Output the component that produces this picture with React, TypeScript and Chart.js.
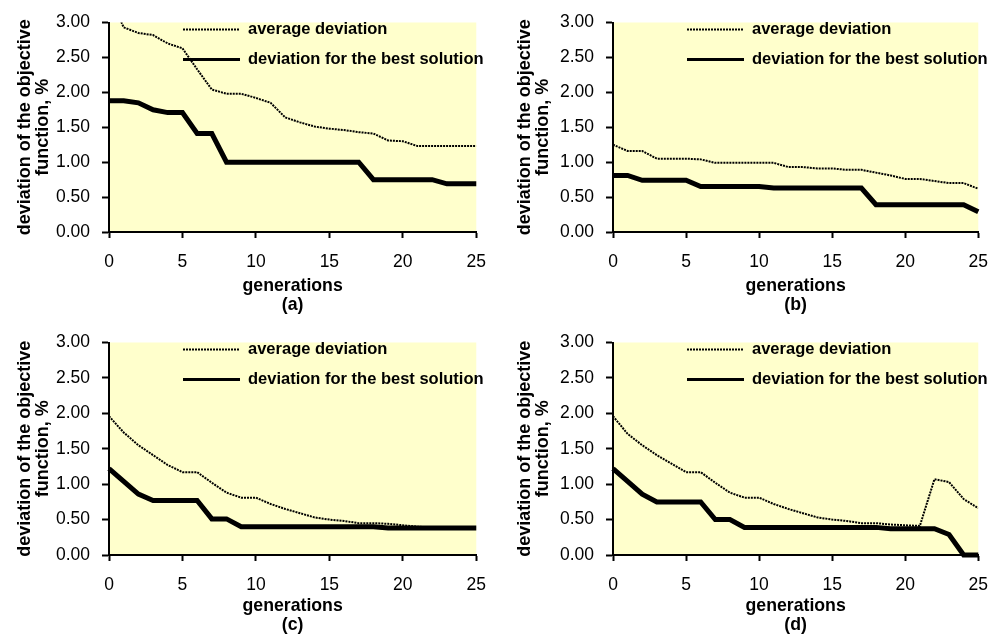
import React, { useEffect, useRef } from "react";
import { Chart, registerables } from "chart.js";

Chart.register(...registerables);

const generations = [0, 1, 2, 3, 4, 5, 6, 7, 8, 9, 10, 11, 12, 13, 14, 15, 16, 17, 18, 19, 20, 21, 22, 23, 24, 25];

const seriesNames = ["average deviation", "deviation for the best solution"];
const panelLabels = ["(a)", "(b)", "(c)", "(d)"];
const yTitle = ["deviation of the objective", "function, %"];
const xTitle = "generations";

const avgA = [3.4, 2.93, 2.85, 2.82, 2.7, 2.63, 2.33, 2.04, 1.98, 1.98, 1.92, 1.85, 1.64, 1.57, 1.51, 1.48, 1.46, 1.43, 1.41, 1.31, 1.3, 1.23, 1.23, 1.23, 1.23, 1.23];
const bestA = [1.88, 1.88, 1.85, 1.75, 1.71, 1.71, 1.41, 1.41, 1.0, 1.0, 1.0, 1.0, 1.0, 1.0, 1.0, 1.0, 1.0, 1.0, 0.75, 0.75, 0.75, 0.75, 0.75, 0.69, 0.69, 0.69];

const avgB = [1.25, 1.16, 1.16, 1.05, 1.05, 1.05, 1.04, 0.99, 0.99, 0.99, 0.99, 0.99, 0.93, 0.93, 0.91, 0.91, 0.89, 0.89, 0.85, 0.81, 0.76, 0.76, 0.73, 0.7, 0.7, 0.62];
const bestB = [0.81, 0.81, 0.74, 0.74, 0.74, 0.74, 0.65, 0.65, 0.65, 0.65, 0.65, 0.63, 0.63, 0.63, 0.63, 0.63, 0.63, 0.63, 0.39, 0.39, 0.39, 0.39, 0.39, 0.39, 0.39, 0.29];

const avgC = [1.96, 1.73, 1.55, 1.41, 1.27, 1.17, 1.17, 1.02, 0.88, 0.81, 0.81, 0.72, 0.65, 0.59, 0.53, 0.5, 0.48, 0.45, 0.45, 0.44, 0.42, 0.4, 0.39, 0.39, 0.39, 0.39];
const bestC = [1.22, 1.04, 0.86, 0.77, 0.77, 0.77, 0.77, 0.51, 0.51, 0.4, 0.4, 0.4, 0.4, 0.4, 0.4, 0.4, 0.4, 0.4, 0.4, 0.38, 0.38, 0.38, 0.38, 0.38, 0.38, 0.38];

const avgD = [1.96, 1.71, 1.55, 1.41, 1.29, 1.17, 1.17, 1.02, 0.88, 0.81, 0.81, 0.72, 0.65, 0.59, 0.53, 0.5, 0.48, 0.45, 0.45, 0.43, 0.42, 0.41, 1.07, 1.03, 0.79, 0.66];
const bestD = [1.22, 1.04, 0.86, 0.75, 0.75, 0.75, 0.75, 0.5, 0.5, 0.39, 0.39, 0.39, 0.39, 0.39, 0.39, 0.39, 0.39, 0.39, 0.39, 0.37, 0.37, 0.37, 0.37, 0.29, 0.0, 0.0];

const FONT = "'Liberation Sans', Arial, Helvetica, sans-serif";
const BG = "#FFFFCC";
const AVG_DASH = [2, 1];

Chart.defaults.font.family = FONT;
Chart.defaults.font.size = 17;
Chart.defaults.color = "#000";

type Box = { left: number; right: number; top: number; bottom: number };

const bgPlugin = {
  id: "plotBg",
  beforeDraw(chart: any) {
    const { ctx, chartArea } = chart;
    if (!chartArea) return;
    ctx.save();
    ctx.fillStyle = BG;
    ctx.fillRect(chartArea.left, chartArea.top, chartArea.right - chartArea.left, chartArea.bottom - chartArea.top);
    ctx.restore();
  },
};

const legendPlugin = {
  id: "innerLegend",
  afterDatasetsDraw(chart: any) {
    const { ctx, chartArea } = chart;
    const x0 = chartArea.left + 74;
    const x1 = chartArea.left + 131;
    const tx = chartArea.left + 139;
    const rows = [chartArea.top + 7, chartArea.top + 37];
    ctx.save();
    ctx.font = `bold 16.5px ${FONT}`;
    ctx.textBaseline = "middle";
    ctx.textAlign = "left";
    ctx.fillStyle = "#000";
    chart.data.datasets.forEach((ds: any, i: number) => {
      const y = rows[i];
      ctx.beginPath();
      ctx.strokeStyle = "#000";
      ctx.lineWidth = i === 0 ? 2 : 3;
      ctx.setLineDash(i === 0 ? AVG_DASH : []);
      ctx.moveTo(x0, y);
      ctx.lineTo(x1, y);
      ctx.stroke();
      ctx.setLineDash([]);
      ctx.fillText(ds.label, tx, y);
    });
    ctx.restore();
  },
};

function Panel(props: { avg: number[]; best: number[]; label: string; w: number; h: number; box: Box; titleBottom: number }) {
  const ref = useRef<HTMLCanvasElement | null>(null);
  const { avg, best, label, w, h, box, titleBottom } = props;
  useEffect(() => {
    if (!ref.current) return;
    const chart = new Chart(ref.current, {
      type: "line",
      data: {
        labels: generations,
        datasets: [
          {
            label: seriesNames[0],
            data: avg,
            borderColor: "#000",
            borderWidth: 2,
            borderDash: AVG_DASH,
            pointRadius: 0,
            tension: 0,
            fill: false,
          },
          {
            label: seriesNames[1],
            data: best,
            borderColor: "#000",
            borderWidth: 5,
            pointRadius: 0,
            tension: 0,
            fill: false,
            clip: 5,
          },
        ],
      },
      options: {
        responsive: false,
        animation: false,
        devicePixelRatio: 1,
        layout: { padding: { left: 0, right: w - box.right, top: box.top, bottom: 0 } },
        plugins: { legend: { display: false }, tooltip: { enabled: false } },
        scales: {
          x: {
            type: "linear",
            min: 0,
            max: 25,
            ticks: { stepSize: 5, font: { family: FONT, size: 17.5 }, color: "#000", padding: 14, maxRotation: 0 },
            grid: { drawOnChartArea: false, drawTicks: true, tickLength: 6, tickWidth: 2, tickColor: "#000" },
            border: { display: true, color: "#000", width: 2 },
            title: {
              display: true,
              text: [xTitle, label],
              color: "#000",
              font: { family: FONT, size: 17.7, weight: "bold", lineHeight: "19px" },
              padding: { top: 0, bottom: titleBottom },
            },
            afterFit: (s: any) => {
              s.height = h - box.bottom;
            },
          },
          y: {
            type: "linear",
            min: 0,
            max: 3,
            ticks: {
              stepSize: 0.5,
              font: { family: FONT, size: 17.5 },
              color: "#000",
              padding: 12,
              callback: (v: any) => Number(v).toFixed(2),
            },
            grid: { drawOnChartArea: false, drawTicks: true, tickLength: 7, tickWidth: 2, tickColor: "#000" },
            border: { display: true, color: "#000", width: 2 },
            title: {
              display: true,
              text: yTitle,
              color: "#000",
              font: { family: FONT, size: 18, weight: "bold", lineHeight: "18px" },
              padding: { top: 16, bottom: 0 },
            },
            afterFit: (s: any) => {
              s.width = box.left;
            },
          },
        },
      } as any,
      plugins: [bgPlugin, legendPlugin],
    });
    return () => chart.destroy();
  }, []);
  return <canvas ref={ref} width={w} height={h} style={{ display: "block", width: w, height: h }} />;
}

export default function App() {
  return (
    <div style={{ position: "absolute", left: 0, top: 0, width: 1002, height: 642, background: "#fff" }}>
      <div style={{ position: "absolute", left: 0, top: 0 }}>
        <Panel avg={avgA} best={bestA} label={panelLabels[0]} w={500} h={320} box={{ left: 109, right: 484, top: 15, bottom: 232 }} titleBottom={5.5} />
      </div>
      <div style={{ position: "absolute", left: 500, top: 0 }}>
        <Panel avg={avgB} best={bestB} label={panelLabels[1]} w={502} h={320} box={{ left: 113, right: 488, top: 15, bottom: 232 }} titleBottom={5.5} />
      </div>
      <div style={{ position: "absolute", left: 0, top: 320 }}>
        <Panel avg={avgC} best={bestC} label={panelLabels[2]} w={500} h={322} box={{ left: 109, right: 484, top: 18, bottom: 235 }} titleBottom={7.5} />
      </div>
      <div style={{ position: "absolute", left: 500, top: 320 }}>
        <Panel avg={avgD} best={bestD} label={panelLabels[3]} w={502} h={322} box={{ left: 113, right: 488, top: 18, bottom: 235 }} titleBottom={7.5} />
      </div>
    </div>
  );
}
